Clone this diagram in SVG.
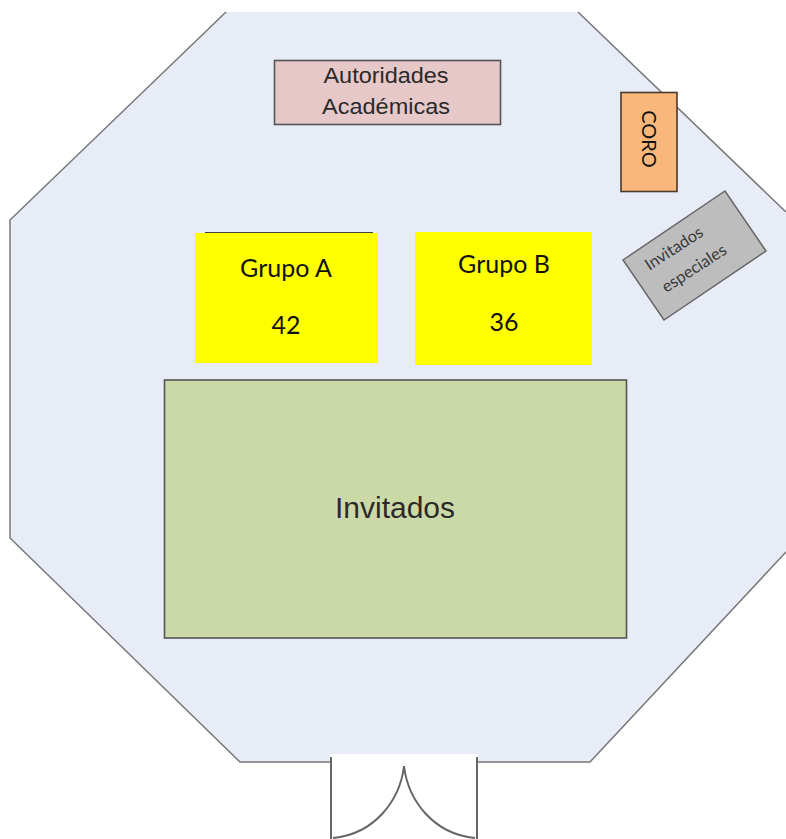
<svg xmlns="http://www.w3.org/2000/svg" width="786" height="839" viewBox="0 0 786 839">
<style>
.b{stroke-width:1.6}
.a{font-family:"Liberation Sans",Arial,sans-serif;fill:#2a2a2a}
.c{font-family:Lato,"Open Sans",sans-serif;fill:#111}
.w{fill:none;stroke:#666;stroke-width:2}
</style>
<rect width="786" height="839" fill="#fff"/>
<g id="hall">
<path d="M226 12H578L786 212V552L590 762H478V754H330V762H240L10 538V220Z" fill="#e7ecf7"/>
<path d="M226 12L10 220V538L240 762H330M478 762H590L786 552M578 12L786 212" fill="none" stroke="#777" stroke-width="1.5"/>
</g>
<g id="door">
<path class="w" d="M331 757V839M477 757V839" stroke-width="2.5"/>
<path class="w" d="M404 766C400 800 375 834 333 838M404 766C408 800 433 834 475 838"/>
</g>
<g id="autoridades">
<rect x="274.500" y="60.500" width="226" height="64" fill="#e6c8c8" stroke="#555" class="b"/>
<text class="a" x="386" y="83" font-size="22.500" textLength="125" lengthAdjust="spacingAndGlyphs" text-anchor="middle">Autoridades</text>
<text class="a" x="386" y="114" font-size="22.500" textLength="128" lengthAdjust="spacingAndGlyphs" text-anchor="middle">Académicas</text>
</g>
<g id="coro">
<rect x="621" y="92.500" width="56" height="99" fill="#fab77c" stroke="#4a3a2a" class="b"/>
<text class="c" transform="translate(642 139) rotate(90)" font-size="20" text-anchor="middle">CORO</text>
</g>
<g id="invitados-especiales">
<path d="M623 260L725 191L766 251L664 320Z" fill="#bdbdbd" stroke="#666" stroke-width="1.500"/>
<text class="c" fill-opacity="0.8" transform="translate(677 253) rotate(-33)" font-size="16.500" text-anchor="middle">Invitados</text>
<text class="c" fill-opacity="0.8" transform="translate(697 273) rotate(-33)" font-size="16.500" text-anchor="middle">especiales</text>
</g>
<g id="grupo-a">
<rect x="195" y="233" width="183" height="130" fill="#ffff00"/>
<path d="M205 232.500H373" stroke="#444" stroke-width="1.200"/>
<text class="c" x="286" y="277" font-size="25" text-anchor="middle">Grupo A</text>
<text class="c" x="286" y="334" font-size="25" text-anchor="middle">42</text>
</g>
<g id="grupo-b">
<rect x="415" y="232" width="177" height="133" fill="#ffff00"/>
<text class="c" x="504" y="273" font-size="25" text-anchor="middle">Grupo B</text>
<text class="c" x="504" y="331" font-size="25" text-anchor="middle">36</text>
</g>
<g id="invitados">
<rect x="164.500" y="380" width="462" height="258" fill="#cbd9a7" stroke="#555" class="b"/>
<text class="a" x="395" y="518" font-size="29" textLength="120" lengthAdjust="spacingAndGlyphs" text-anchor="middle">Invitados</text>
</g>
</svg>
